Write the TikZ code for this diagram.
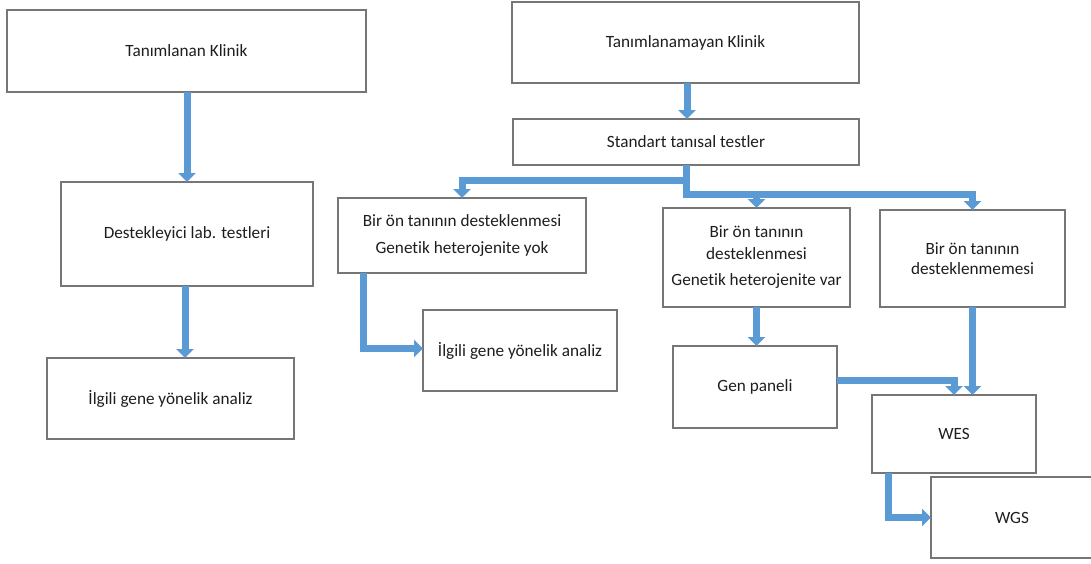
\documentclass[tikz,border=0pt]{standalone}
\usepackage{fontspec}
\setmainfont[Ligatures={NoCommon,NoRare}]{Carlito}
\usetikzlibrary{arrows.meta,calc}
\definecolor{arrowblue}{RGB}{91,155,213}
\definecolor{boxgray}{RGB}{118,118,118}
\definecolor{txt}{RGB}{30,30,30}
\begin{document}
\begin{tikzpicture}[x=1pt,y=-1pt,
  box/.style={draw=boxgray,line width=1.3pt,fill=white,inner sep=0pt,outer sep=0pt,
    align=center,text=txt,font=\fontsize{17.2}{21}\selectfont},
  arr/.style={draw=arrowblue,line width=7pt,line join=miter,
    -{Triangle[width=17pt,length=9pt]}}]
\useasboundingbox (0,0) rectangle (1091,563);
% left column
\node[box,minimum width=359pt,minimum height=82pt] (A) at (186.5,51) {Tanımlanan Klinik};
\node[box,minimum width=252pt,minimum height=104pt] (B) at (187,234) {Destekleyici lab. testleri};
\node[box,minimum width=247pt,minimum height=81pt] (C) at (170.5,398.5) {İlgili gene yönelik analiz};
% right part
\node[box,minimum width=347pt,minimum height=81pt] (D) at (685.5,42.5) {Tanımlanamayan Klinik};
\node[box,minimum width=346pt,minimum height=46pt] (E) at (686,142) {Standart tanısal testler};
\node[box,minimum width=248pt,minimum height=75pt] (F) at (462,235.5) {Bir ön tanının desteklenmesi\\[6pt]Genetik heterojenite yok};
\node[box,minimum width=187pt,minimum height=99pt] (G) at (756.5,257.5) {Bir ön tanının\\[1pt]desteklenmesi\\[5pt]Genetik heterojenite var};
\node[box,minimum width=185pt,minimum height=97pt] (H) at (972.5,258.5) {Bir ön tanının\\[-1pt]desteklenmemesi};
\node[box,minimum width=194pt,minimum height=81pt] (I) at (520,350.5) {İlgili gene yönelik analiz};
\node[box,minimum width=164pt,minimum height=82pt] (J) at (755,387) {Gen paneli};
\node[box,minimum width=164pt,minimum height=78pt] (K) at (954,434) {WES};
\node[box,minimum width=162pt,minimum height=81pt] (L) at (1012,517.5) {WGS};
% connectors
\draw[arr] (A.south -| B.north) -- (B.north);
\draw[arr] ([xshift=-2pt]B.south) -- ([xshift=-2pt]B.south |- C.north);
\draw[arr] ([xshift=1.5pt]D.south) -- ([xshift=1.5pt]D.south |- E.north);
\coordinate (e1) at ($(E.south)+(0,15)$);
\coordinate (e2) at ($(E.south)+(0,29)$);
\draw[arr] (E.south) -- (e1) -| (F.north);
\draw[arr] (E.south) -- (e2) -| (H.north);
\draw[arr] (e2 -| G.north) -- (G.north);
\draw[arr] ($(F.south west)+(25,0)$) |- ([yshift=2pt]I.west);
\draw[arr] (G.south) -- (G.south |- J.north);
\draw[arr] ([yshift=7pt]J.east) -| (K.north);
\draw[arr] (H.south) -- (H.south |- K.north);
\draw[arr] ($(K.south west)+(16,0)$) |- (L.west);
\end{tikzpicture}
\end{document}
